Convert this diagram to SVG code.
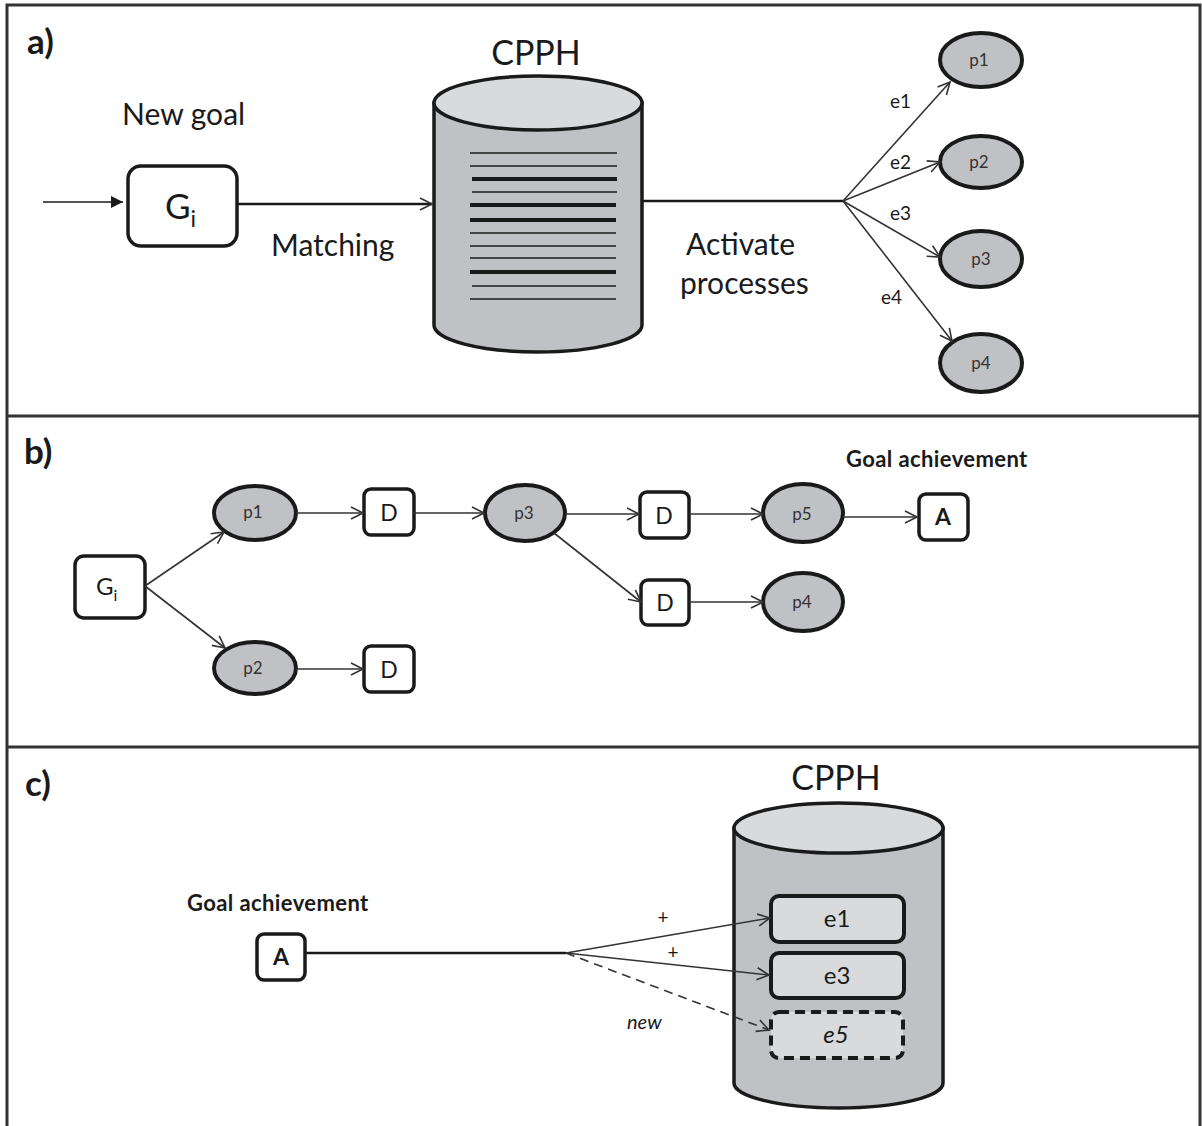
<svg xmlns="http://www.w3.org/2000/svg" width="1202" height="1126" viewBox="0 0 1202 1126">
<style>
text{font-family:Lato,"Open Sans","Liberation Sans",sans-serif;fill:#1a1a1a}
.lbl{font-size:35px;font-weight:bold}
.big{font-size:30px}
.box{fill:#fff;stroke:#1a1a1a;stroke-width:3.5}
.proc{fill:#c0c1c4;stroke:#1a1a1a;stroke-width:4}
.pt{font-size:17px;fill:#333;text-anchor:middle}
.thin{fill:none;stroke:#333;stroke-width:1.6}
.frame{stroke:#333;stroke-width:3;fill:none}
.ga{font-size:22px;font-weight:bold;letter-spacing:0.4px}
.cyl{fill:#c0c1c4;stroke:#1a1a1a;stroke-width:3.5}
.cyltop{fill:#d9dadc;stroke:#1a1a1a;stroke-width:3.5}
.ebox{fill:#d9dadc;stroke:#1a1a1a;stroke-width:4}
</style>
<defs>
<marker id="open" markerUnits="userSpaceOnUse" markerWidth="16" markerHeight="16" refX="13" refY="7" orient="auto" viewBox="0 0 16 14">
<path d="M1,1 L13,7 L1,13" fill="none" stroke="#333" stroke-width="1.6"/>
</marker>
<marker id="filled" markerUnits="userSpaceOnUse" markerWidth="14" markerHeight="14" refX="12" refY="6" orient="auto" viewBox="0 0 14 12">
<path d="M0,0 L12,6 L0,12 Z" fill="#1a1a1a"/>
</marker>
</defs>
<rect width="1202" height="1126" fill="#fff"/>
<g id="frame">
<path class="frame" d="M7,1126 V5 H1200 V1126"/>
<line class="frame" x1="7" y1="416" x2="1200" y2="416"/>
<line class="frame" x1="7" y1="747" x2="1200" y2="747"/>
</g>
<g id="labels">
<text class="lbl" x="27" y="54">a)</text>
<text class="lbl" x="24" y="464">b)</text>
<text class="lbl" x="25" y="796">c)</text>
</g>
<g id="a-texts">
<text class="big" x="122" y="125">New goal</text>
<text class="big" x="271" y="256">Matching</text>
<text class="big" x="686" y="255">Activate</text>
<text class="big" x="680" y="294">processes</text>
<text x="536" y="65" font-size="34" text-anchor="middle">CPPH</text>
<text x="890" y="108" font-size="19">e1</text>
<text x="890" y="169" font-size="19">e2</text>
<text x="890" y="220" font-size="19">e3</text>
<text x="881" y="304" font-size="19">e4</text>
</g>
<g id="a-Gi">
<rect class="box" x="128" y="166" width="109" height="80" rx="13"/>
<text x="165" y="219" font-size="35">G<tspan font-size="23" dy="8">i</tspan></text>
</g>
<g id="a-CPPH">
<path class="cyl" d="M434,103 V325 A104,27 0 0 0 642,325 V103 Z"/>
<ellipse class="cyltop" cx="538" cy="103" rx="104" ry="27"/>
<g stroke="#1a1a1a">
<line x1="470" y1="153" x2="617" y2="153" stroke-width="1.5"/>
<line x1="470" y1="166" x2="617" y2="166" stroke-width="1.5"/>
<line x1="472" y1="179" x2="617" y2="179" stroke-width="4"/>
<line x1="472" y1="192" x2="617" y2="192" stroke-width="1.5"/>
<line x1="470" y1="205" x2="616" y2="205" stroke-width="4"/>
<line x1="470" y1="220" x2="616" y2="220" stroke-width="4"/>
<line x1="470" y1="233" x2="616" y2="233" stroke-width="1.5"/>
<line x1="470" y1="246" x2="616" y2="246" stroke-width="1.5"/>
<line x1="470" y1="258" x2="616" y2="258" stroke-width="1.5"/>
<line x1="470" y1="272" x2="616" y2="272" stroke-width="4"/>
<line x1="472" y1="286" x2="616" y2="286" stroke-width="1.5"/>
<line x1="470" y1="299" x2="616" y2="299" stroke-width="1.5"/>
</g>
</g>
<g id="a-p1"><ellipse class="proc" cx="981" cy="60" rx="41" ry="27"/><text class="pt" x="979" y="66">p1</text></g>
<g id="a-p2"><ellipse class="proc" cx="981" cy="162" rx="41" ry="26"/><text class="pt" x="979" y="168">p2</text></g>
<g id="a-p3"><ellipse class="proc" cx="981" cy="259" rx="41" ry="28"/><text class="pt" x="981" y="265">p3</text></g>
<g id="a-p4"><ellipse class="proc" cx="981" cy="363" rx="41" ry="29"/><text class="pt" x="981" y="369">p4</text></g>
<g id="b-Gi">
<rect class="box" x="75" y="556" width="70" height="62" rx="9"/>
<text x="96" y="595" font-size="24">G<tspan font-size="16" dy="6">i</tspan></text>
</g>
<g id="b-p1"><ellipse class="proc" cx="255" cy="513" rx="41" ry="27"/><text class="pt" x="253" y="518">p1</text></g>
<g id="b-p2"><ellipse class="proc" cx="255" cy="668" rx="41" ry="26"/><text class="pt" x="253" y="674">p2</text></g>
<g id="b-p3"><ellipse class="proc" cx="525" cy="513" rx="40" ry="28"/><text class="pt" x="524" y="519">p3</text></g>
<g id="b-p5"><ellipse class="proc" cx="803" cy="513" rx="40" ry="29"/><text class="pt" x="802" y="520">p5</text></g>
<g id="b-p4"><ellipse class="proc" cx="803" cy="602" rx="40" ry="29"/><text class="pt" x="802" y="608">p4</text></g>
<g id="b-D1"><rect class="box" x="364" y="489" width="50" height="46" rx="7"/><text x="389" y="521" font-size="23" text-anchor="middle">D</text></g>
<g id="b-D2"><rect class="box" x="364" y="646" width="50" height="46" rx="7"/><text x="389" y="678" font-size="23" text-anchor="middle">D</text></g>
<g id="b-D3"><rect class="box" x="640" y="492" width="49" height="46" rx="7"/><text x="664" y="524" font-size="23" text-anchor="middle">D</text></g>
<g id="b-D4"><rect class="box" x="641" y="580" width="48" height="45" rx="7"/><text x="665" y="611" font-size="23" text-anchor="middle">D</text></g>
<g id="b-A">
<text class="ga" x="846" y="467">Goal achievement</text>
<rect class="box" x="919" y="494" width="49" height="46" rx="7"/><text x="943" y="525" font-size="23" font-weight="bold" text-anchor="middle">A</text>
</g>
<g id="c-A">
<text class="ga" x="187" y="911">Goal achievement</text>
<rect class="box" x="257" y="934" width="48" height="46" rx="7"/><text x="281" y="965" font-size="23" font-weight="bold" text-anchor="middle">A</text>
</g>
<g id="c-texts">
<text x="663" y="924" font-size="19" text-anchor="middle">+</text>
<text x="673" y="959" font-size="19" text-anchor="middle">+</text>
<text x="627" y="1029" font-size="20" font-style="italic">new</text>
<text x="836" y="790" font-size="34" text-anchor="middle">CPPH</text>
</g>
<g id="c-CPPH">
<path class="cyl" d="M734,828 V1083 A104.5,25 0 0 0 943,1083 V828 Z"/>
<ellipse class="cyltop" cx="838.5" cy="828" rx="104.5" ry="25"/>
</g>
<g id="c-e1"><rect class="ebox" x="771" y="896" width="133" height="46" rx="8"/><text x="837" y="927" font-size="24" text-anchor="middle">e1</text></g>
<g id="c-e3"><rect class="ebox" x="771" y="953" width="133" height="45" rx="8"/><text x="837" y="984" font-size="24" text-anchor="middle">e3</text></g>
<g id="c-e5"><rect class="ebox" x="771" y="1012" width="132" height="46" rx="8" stroke-dasharray="10,6"/><text x="836" y="1043" font-size="24" font-style="italic" text-anchor="middle">e5</text></g>
<g id="connectors">
<line x1="43" y1="202" x2="123" y2="202" stroke="#1a1a1a" stroke-width="1.6" marker-end="url(#filled)"/>
<line x1="237" y1="204" x2="432" y2="204" stroke="#1a1a1a" stroke-width="2.5" marker-end="url(#open)"/>
<line x1="643" y1="201" x2="843" y2="201" stroke="#1a1a1a" stroke-width="2.5"/>
<line class="thin" x1="843" y1="201" x2="950" y2="82" marker-end="url(#open)"/>
<line class="thin" x1="843" y1="201" x2="940" y2="162" marker-end="url(#open)"/>
<line class="thin" x1="843" y1="201" x2="940" y2="257" marker-end="url(#open)"/>
<line class="thin" x1="843" y1="201" x2="952" y2="341" marker-end="url(#open)"/>
<line class="thin" x1="145" y1="586" x2="224" y2="532" marker-end="url(#open)"/>
<line class="thin" x1="145" y1="586" x2="225" y2="648" marker-end="url(#open)"/>
<line class="thin" x1="296" y1="513" x2="363" y2="513" marker-end="url(#open)"/>
<line class="thin" x1="414" y1="513" x2="484" y2="513" marker-end="url(#open)"/>
<line class="thin" x1="296" y1="669" x2="363" y2="669" marker-end="url(#open)"/>
<line class="thin" x1="565" y1="514" x2="639" y2="514" marker-end="url(#open)"/>
<line class="thin" x1="689" y1="514" x2="763" y2="514" marker-end="url(#open)"/>
<line class="thin" x1="843" y1="517" x2="917" y2="517" marker-end="url(#open)"/>
<line class="thin" x1="554" y1="533" x2="641" y2="602" marker-end="url(#open)"/>
<line class="thin" x1="689" y1="602" x2="763" y2="602" marker-end="url(#open)"/>
<line x1="305" y1="953" x2="566" y2="953" stroke="#1a1a1a" stroke-width="2.5"/>
<line class="thin" x1="566" y1="953" x2="770" y2="918" marker-end="url(#open)"/>
<line class="thin" x1="566" y1="953" x2="769" y2="975" marker-end="url(#open)"/>
<line class="thin" x1="566" y1="953" x2="769" y2="1030" stroke-dasharray="9,6" marker-end="url(#open)"/>
</g>
</svg>
